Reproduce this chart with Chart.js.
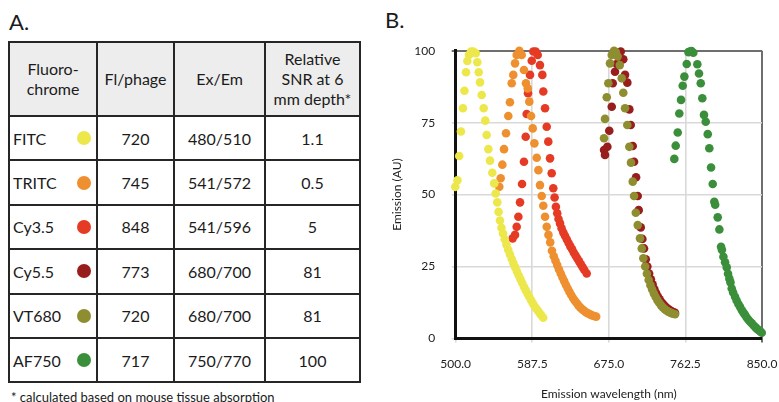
<!DOCTYPE html>
<html>
<head>
<meta charset="utf-8">
<script src="https://cdn.jsdelivr.net/npm/chart.js@4.4.1/dist/chart.umd.min.js"></script>
<style>
html, body { margin:0; padding:0; background:#fff; }
body { width:779px; height:402px; overflow:hidden; position:relative; font-family:Lato, sans-serif; color:#1b1b1b; }
.lbl { position:absolute; font-size:22px; line-height:22px; }
#tbl { position:absolute; left:8px; top:41px; border-collapse:collapse; table-layout:fixed; font-size:16px; }
#tbl td, #tbl th { border:2px solid #262626; padding:0; text-align:center; font-weight:normal; }
#tbl th { background:#ededed; line-height:20px; }
#tbl tr.head { height:74px; }
#tbl tr.row { height:44.4px; }
#tbl td.dye { text-align:left; }
.dyecell { display:flex; justify-content:space-between; align-items:center; padding:0 5px 0 3px; }
.dot { width:14px; height:14px; border-radius:50%; display:inline-block; }
#note { position:absolute; left:11px; top:389px; font-size:13px; }
#wrap { position:absolute; left:380px; top:0; width:420px; height:402px; }
</style>
</head>
<body>
<div class="lbl" style="left:9px; top:11px;">A.</div>
<div class="lbl" style="left:385px; top:9px;">B.</div>
<table id="tbl">
  <colgroup><col style="width:88px"><col style="width:77px"><col style="width:91px"><col style="width:95px"></colgroup>
  <thead></thead>
  <tbody></tbody>
</table>
<div id="note">* calculated based on mouse tissue absorption</div>
<div id="wrap"><canvas id="chart" width="420" height="402"></canvas></div>
<script>
// table A
var headers = ['Fluoro-<br>chrome', 'Fl/phage', 'Ex/Em', 'Relative<br>SNR at 6<br>mm depth*'];
var dyes = ['FITC', 'TRITC', 'Cy3.5', 'Cy5.5', 'VT680', 'AF750'];
var flPerPhage = [720, 745, 848, 773, 720, 717];
var exEm = ['480/510', '541/572', '541/596', '680/700', '680/700', '750/770'];
var relSnr = ['1.1', '0.5', '5', '81', '81', '100'];
var dyeColors = ['#ece84c', '#ee9030', '#e53b25', '#981d1d', '#8e8e30', '#3b8f3b'];

// chart B (emission spectra)
var fitcWl = [499.5, 502, 504, 506, 508.3, 510, 511.8, 513.3, 515.2, 517.5, 520, 523, 524.7, 526.3, 527.8, 529.7, 532, 533.8, 535.4, 537.3, 539.2, 541.8, 544, 545.7, 547.5, 549, 550.6, 552.3, 554, 556, 558, 560, 562, 564, 566, 568, 570, 572, 574, 576, 578, 580, 582, 584, 586, 588, 590, 592, 594, 596, 598, 600];
var fitcEm = [52.7, 55, 63.4, 71.9, 80, 86.1, 92.5, 96.4, 98.5, 99.7, 99.7, 99.1, 96, 92.5, 89, 84.6, 80, 75.7, 70.7, 65.8, 61.8, 57.6, 53.9, 50.4, 47.3, 44, 41, 38.5, 36.5, 34.5, 32.6, 30.8, 29.2, 27.6, 26.1, 24.7, 23.3, 21.9, 20.6, 19.3, 18, 16.8, 15.6, 14.5, 13.4, 12.3, 11.3, 10.4, 9.6, 8.8, 8, 7.2];

var tritcWl = [549.8, 551.4, 553.3, 555.2, 557.5, 560.1, 562, 564, 565.8, 567.8, 569.7, 572.7, 575.4, 578, 580.3, 582.3, 584.1, 586.1, 588, 589.9, 592.6, 594.5, 596.3, 598.3, 600.1, 602.1, 604, 606, 608, 610, 612, 614, 616, 618, 620, 622, 624, 626, 628, 630, 632, 634, 636, 638, 640, 642, 644, 646, 648, 650, 652, 654, 656, 658, 660.5];
var tritcEm = [52.7, 55.7, 60.4, 65.8, 71.3, 77.3, 82.1, 88.7, 91.6, 95.6, 98.5, 100, 98.5, 93.3, 88.7, 86.9, 82.3, 77.3, 73, 67.8, 62.8, 58.5, 53.3, 49.5, 46.1, 42.3, 38.8, 36, 33.4, 30.5, 28.6, 27, 25.5, 24, 22.6, 21.2, 19.9, 18.6, 17.4, 16.2, 15.1, 14.1, 13.2, 12.4, 11.6, 10.9, 10.3, 9.8, 9.3, 8.9, 8.6, 8.3, 8, 7.8, 7.6];

var cy35Wl = [565.1, 567.8, 569.7, 571.6, 573.5, 575.8, 578, 580, 581.1, 582.6, 584.9, 586.9, 588.7, 591.4, 593.7, 596.3, 599, 600.1, 602.1, 604, 605.8, 607.8, 609.7, 611.5, 613, 614.5, 616, 617.5, 619.2, 621, 623, 625, 627, 629, 631, 633, 635, 637, 639, 641, 643, 645, 647, 649.7];
var cy35Em = [34.8, 36, 38.8, 42.3, 47.3, 53.7, 61.4, 70.1, 78, 85.2, 91.6, 96.5, 99.7, 99.7, 98.5, 95, 91.6, 85.8, 80, 73.6, 68.4, 62.6, 57.4, 52.2, 49, 45.8, 43.5, 41.5, 40, 38.3, 36.8, 35.6, 34.4, 33.2, 32, 31, 29.8, 28.8, 27.8, 26.8, 25.8, 24.8, 23.8, 22.6];

var vt680Wl = [669.5, 670.6, 672.6, 674.4, 676.3, 678.3, 680.9, 683, 685, 687.5, 689.7, 691.5, 693.5, 696.1, 698.4, 700.3, 702.3, 703.8, 705.8, 708, 710.6, 712.6, 714.4, 716.5, 718.5, 720.5, 722.5, 724.5, 726.5, 728.5, 730.5, 732.5, 734.5, 736.5, 738.5, 740.5, 742.5, 744.5, 746.5, 748.5, 750.6];
var vt680Em = [69.6, 76.3, 83.8, 88.7, 95.6, 98.5, 100, 99.5, 98, 95, 90.4, 85.4, 80, 74.2, 66.6, 61.1, 54.5, 49.5, 43.7, 39.4, 34.8, 31.3, 27.9, 25, 22.5, 20.3, 18.5, 17, 15.6, 14.4, 13.3, 12.4, 11.6, 10.9, 10.3, 9.8, 9.4, 9.1, 8.8, 8.6, 8.4];

var cy55Wl = [669.5, 670.6, 673.3, 675.5, 678.3, 679.4, 682, 684, 685.8, 688.6, 691.5, 693.5, 696.1, 698.4, 700, 702.3, 703.8, 706.1, 708, 709.1, 711.4, 713.3, 715.2, 717.2, 719, 721, 723, 725, 727, 729, 731, 733, 735, 737, 739, 741, 743, 745, 747, 749, 750.6];
var cy55Em = [65.5, 63.8, 66.6, 72.2, 80.5, 88.7, 92.7, 95.4, 98.5, 99.7, 97, 91.6, 88.9, 79.6, 74.2, 66.9, 61.4, 56, 49.5, 44.6, 38.6, 34.6, 31.3, 27.5, 25, 22.6, 20.6, 18.8, 17.2, 15.8, 14.6, 13.6, 12.7, 12, 11.3, 10.7, 10.2, 9.8, 9.4, 9.1, 8.9];

var af750Wl = [749.8, 751.4, 753.7, 755.5, 757.5, 759.4, 761.3, 764, 766, 767.8, 769.5, 771.5, 776.1, 778, 780, 781.8, 783.7, 785.7, 788, 789.8, 791.8, 793.7, 795.5, 796.5, 799.4, 801.3, 803.2, 804.2, 805.9, 807.8, 809.7, 811.2, 812.7, 814, 815.4, 817, 819.2, 821, 823, 824.9, 827, 829, 830.6, 832.5, 834.5, 836.5, 838.3, 840.5, 842.5, 844, 845.8, 847.8, 849.7];
var af750Em = [62.4, 67, 71.6, 78.2, 82.9, 87.8, 91, 95.4, 99.5, 99.7, 99.9, 99.3, 95.3, 92.1, 88.7, 83.5, 77.7, 75.3, 71, 66.1, 59.4, 53.7, 47.5, 46.5, 42.1, 37.9, 31.9, 30.8, 28.4, 26.5, 24.7, 22.5, 20.8, 19.5, 17.4, 16, 14.5, 13.2, 12, 11, 9.8, 8.9, 8.2, 7.3, 6.5, 5.8, 5.3, 4.5, 3.9, 3.4, 3, 2.5, 2];

var xTicks = [500, 587.5, 675, 762.5, 850];
var yTicks = [0, 25, 50, 75, 100];

// build the table
var thead = document.querySelector('#tbl thead');
var hr = document.createElement('tr');
hr.className = 'head';
headers.forEach(function(h){
  var th = document.createElement('th');
  th.innerHTML = h;
  hr.appendChild(th);
});
thead.appendChild(hr);

var tbody = document.querySelector('#tbl tbody');
dyes.forEach(function(d, i){
  var tr = document.createElement('tr');
  tr.className = 'row';
  tr.innerHTML = '<td class="dye"><div class="dyecell"><span>' + d + '</span><span class="dot" style="background:' + dyeColors[i] + '"></span></div></td>' +
    '<td>' + flPerPhage[i] + '</td><td>' + exEm[i] + '</td><td>' + relSnr[i] + '</td>';
  tbody.appendChild(tr);
});

// build the chart
function pts(xs, ys){
  return xs.map(function(x, i){ return {x: x, y: ys[i]}; });
}
function ds(label, xs, ys, color){
  return {
    label: label,
    data: pts(xs, ys),
    backgroundColor: color,
    borderWidth: 0,
    pointRadius: 4.3,
    pointHoverRadius: 4.3,
    clip: false
  };
}

Chart.defaults.font.family = 'Lato';
Chart.defaults.font.size = 12;
Chart.defaults.color = '#222';

var ctx = document.getElementById('chart').getContext('2d');
var chart = new Chart(ctx, {
    type: 'scatter',
    data: {
        datasets: [
            ds('FITC', fitcWl, fitcEm, dyeColors[0]),
            ds('TRITC', tritcWl, tritcEm, dyeColors[1]),
            ds('Cy3.5', cy35Wl, cy35Em, dyeColors[2]),
            ds('VT680', vt680Wl, vt680Em, dyeColors[4]),
            ds('Cy5.5', cy55Wl, cy55Em, dyeColors[3]),
            ds('AF750', af750Wl, af750Em, dyeColors[5])
        ]
    },
    options: {
        responsive: false,
        animation: false,
        events: [],
        layout: { padding: { left: 0, top: 50.7, right: 38, bottom: 0 } },
        plugins: { legend: { display: false }, tooltip: { enabled: false } },
        scales: {
            x: {
                type: 'linear',
                min: 500,
                max: 850,
                afterBuildTicks: function(s){ s.ticks = xTicks.map(function(v){ return {value: v}; }); },
                afterFit: function(s){ s.height = 63.5; },
                ticks: { padding: 14, callback: function(v){ return v.toFixed(1); } },
                grid: {
                    color: function(c){ return c.tick && c.tick.value === 850 ? '#6e6e6e' : '#d9d9d9'; },
                    lineWidth: function(c){ return c.tick && c.tick.value === 850 ? 2 : 1.6; },
                    tickLength: 4
                },
                border: { color: '#111', width: 3 },
                title: { display: true, text: 'Emission wavelength (nm)', padding: { top: 0, bottom: 1 } }
            },
            y: {
                min: 0,
                max: 100,
                afterBuildTicks: function(s){ s.ticks = yTicks.map(function(v){ return {value: v}; }); },
                afterFit: function(s){ s.width = 75.7; },
                ticks: { padding: 16.5 },
                grid: {
                    color: function(c){ return c.tick && c.tick.value === 100 ? '#6e6e6e' : '#d9d9d9'; },
                    lineWidth: function(c){ return c.tick && c.tick.value === 100 ? 2 : 1.6; },
                    tickLength: 4
                },
                border: { color: '#111', width: 3 },
                title: { display: true, text: 'Emission (AU)', padding: { top: 10, bottom: 0 } }
            }
        }
    }
});
</script>
</body>
</html>
